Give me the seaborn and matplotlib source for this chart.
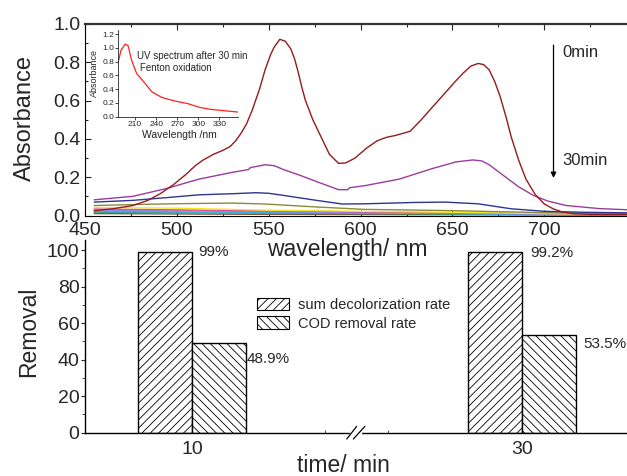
import matplotlib
matplotlib.use("Agg")
import numpy as np
import pandas as pd
import matplotlib.pyplot as plt
import seaborn as sns
from matplotlib.patches import Patch
from matplotlib.lines import Line2D
from matplotlib.ticker import MultipleLocator, FixedLocator
import matplotlib.transforms as mtransforms

# ---------------- data ----------------
# Visible spectra during Fenton oxidation (0 min ... 30 min)
wl_c0 = [455, 465, 476, 484, 491, 498, 505, 510, 514, 520, 525, 529, 532, 535, 538, 541, 545,
         548, 551, 553, 556, 559, 562, 564, 566, 568, 570, 574, 578, 583, 588, 592, 597, 603,
         609, 614, 619, 627, 633, 639, 646, 652, 656, 660, 664, 667, 670, 673, 676, 679, 682,
         686, 690, 695, 700, 705, 710, 716, 725, 735, 745]
abs_c0 = [0.025, 0.035, 0.052, 0.078, 0.114, 0.16, 0.215, 0.26, 0.288, 0.32, 0.34, 0.36, 0.39,
          0.43, 0.48, 0.55, 0.66, 0.76, 0.84, 0.88, 0.92, 0.91, 0.87, 0.82, 0.75, 0.67, 0.60,
          0.50, 0.42, 0.32, 0.272, 0.275, 0.30, 0.35, 0.39, 0.408, 0.418, 0.44, 0.50, 0.565,
          0.64, 0.705, 0.745, 0.78, 0.794, 0.788, 0.76, 0.70, 0.62, 0.52, 0.41, 0.29, 0.19,
          0.11, 0.06, 0.034, 0.018, 0.009, 0.006, 0.005, 0.005]

wl_c1 = [455, 476, 494, 512, 530, 539, 540, 548, 553, 558, 567, 578, 588, 593, 594, 603, 621,
         639, 652, 661, 666, 670, 679, 686, 694, 702, 712, 730, 745]
abs_c1 = [0.082, 0.10, 0.14, 0.19, 0.225, 0.24, 0.25, 0.265, 0.26, 0.24, 0.21, 0.17, 0.135,
          0.135, 0.145, 0.157, 0.19, 0.245, 0.28, 0.29, 0.285, 0.265, 0.20, 0.15, 0.105, 0.075,
          0.052, 0.036, 0.03]

wl_c2 = [455, 476, 494, 512, 531, 543, 550, 558, 576, 590, 602, 629, 646, 664, 682, 700, 720, 745]
abs_c2 = [0.07, 0.079, 0.093, 0.108, 0.114, 0.119, 0.116, 0.105, 0.079, 0.06, 0.061, 0.068,
          0.07, 0.061, 0.035, 0.022, 0.017, 0.014]

wl_c3 = [455, 480, 504, 530, 548, 575, 602, 646, 700, 745]
abs_c3 = [0.052, 0.058, 0.062, 0.065, 0.060, 0.045, 0.032, 0.026, 0.015, 0.009]

wl_c4 = [455, 500, 548, 600, 646, 700, 745]
abs_c4 = [0.042, 0.038, 0.028, 0.022, 0.017, 0.010, 0.005]

wl_c5 = [455, 550, 650, 745]
abs_c5 = [0.034, 0.024, 0.014, 0.006]

wl_c6 = [455, 550, 650, 745]
abs_c6 = [0.028, 0.020, 0.012, 0.004]

wl_c7 = [455, 550, 650, 745]
abs_c7 = [0.022, 0.016, 0.010, 0.004]

wl_c8 = [455, 550, 650, 745]
abs_c8 = [0.016, 0.012, 0.008, 0.003]

wl_c9 = [455, 550, 650, 745]
abs_c9 = [0.010, 0.006, 0.004, 0.002]

curve_names = ["c0", "c1", "c2", "c3", "c4", "c5", "c6", "c7", "c8", "c9"]
curve_wl = [wl_c0, wl_c1, wl_c2, wl_c3, wl_c4, wl_c5, wl_c6, wl_c7, wl_c8, wl_c9]
curve_abs = [abs_c0, abs_c1, abs_c2, abs_c3, abs_c4, abs_c5, abs_c6, abs_c7, abs_c8, abs_c9]
curve_colors = ["#951b1b", "#9b3b9e", "#2e3592", "#8a8a3a", "#f5e52a", "#e04aa0",
                "#8a8aff", "#30b4e0", "#40a080", "#7a5a40"]

# Inset UV spectrum after 30 min
inset_wl = [186, 190, 196, 200, 205, 212, 222, 234, 248, 267, 285, 302, 318, 337, 356]
inset_abs = [0.80, 0.97, 1.055, 1.03, 0.82, 0.63, 0.51, 0.36, 0.28, 0.227, 0.19, 0.135,
             0.106, 0.087, 0.068]

# Removal rates
times = ["10", "30"]
sum_rate = [99, 99.2]
cod_rate = [48.9, 53.5]
sum_name = "sum decolorization rate"
cod_name = "COD removal rate"

# ---------------- style ----------------
sns.set_style("ticks")
plt.rcParams["font.family"] = ["Liberation Sans", "DejaVu Sans"]
plt.rcParams["hatch.linewidth"] = 0.6
plt.rcParams["hatch.color"] = "black"

W, H = 627, 476
fig = plt.figure(figsize=(W / 100, H / 100), dpi=100)

def fa(x0, y_top, x1, y_bot):
    return [x0 / W, 1 - y_bot / H, (x1 - x0) / W, (y_bot - y_top) / H]

# ---------------- bottom panel first (so the top panel label sits above) ----------------
axb = fig.add_axes(fa(85, 240, 627, 432.7))
axb.patch.set_alpha(0)

# ---------------- top panel: spectra ----------------
ax = fig.add_axes(fa(85, 24, 627, 215.5))
rows = []
for name, wl, ab in zip(curve_names, curve_wl, curve_abs):
    for w_, a_ in zip(wl, ab):
        rows.append((name, w_, a_))
df_sp = pd.DataFrame(rows, columns=["curve", "wavelength", "absorbance"])
order_draw = curve_names[::-1]
sns.lineplot(data=df_sp, x="wavelength", y="absorbance", hue="curve",
             hue_order=order_draw,
             palette=dict(zip(curve_names, curve_colors)),
             estimator=None, sort=False, legend=False, linewidth=1.0, ax=ax)
ax.set_xlim(450, 745)
ax.set_ylim(0, 1.0)
ax.xaxis.set_major_locator(FixedLocator([450, 500, 550, 600, 650, 700]))
ax.xaxis.set_minor_locator(MultipleLocator(25))
ax.yaxis.set_major_locator(MultipleLocator(0.2))
ax.yaxis.set_minor_locator(MultipleLocator(0.1))
ax.yaxis.set_major_formatter(matplotlib.ticker.FormatStrFormatter("%.1f"))
ax.tick_params(axis="both", which="both", direction="in", top=True, right=False,
               labelsize=14, width=0.8)
ax.tick_params(axis="both", which="major", length=4)
ax.tick_params(axis="both", which="minor", length=2)
ax.tick_params(axis="x", pad=5)
ax.tick_params(axis="y", pad=3)
for s in ["left", "bottom"]:
    ax.spines[s].set_linewidth(0.8)
    ax.spines[s].set_color("black")
ax.spines["top"].set_linewidth(1.6)
ax.spines["top"].set_color("#333333")
ax.spines["right"].set_visible(False)
ax.set_xlabel("wavelength/ nm", fontsize=16.5)
ax.set_ylabel("Absorbance", fontsize=17)
ax.xaxis.set_label_coords(0.484, -0.117)
ax.yaxis.set_label_coords(-0.09, 0.508)

ax.annotate("", xy=(705, 0.196), xytext=(705, 0.89),
            arrowprops=dict(arrowstyle="-|>", lw=0.9, color="black", mutation_scale=8,
                            shrinkA=0, shrinkB=0))
ax.text(710, 0.849, "0min", fontsize=12, ha="left", va="center")
ax.text(710, 0.285, "30min", fontsize=12, ha="left", va="center")

# ---------------- inset ----------------
axi = fig.add_axes(fa(118.3, 30, 238.3, 116.7))
df_in = pd.DataFrame({"wavelength": inset_wl, "absorbance": inset_abs})
sns.lineplot(data=df_in, x="wavelength", y="absorbance", color="#ff2020", linewidth=0.9,
             estimator=None, sort=False, ax=axi)
axi.set_xlim(186, 357)
axi.set_ylim(0, 1.26)
axi.xaxis.set_major_locator(FixedLocator([210, 240, 270, 300, 330]))
axi.yaxis.set_major_locator(MultipleLocator(0.2))
axi.yaxis.set_major_formatter(matplotlib.ticker.FormatStrFormatter("%.1f"))
axi.tick_params(axis="both", which="major", direction="out", length=2, width=0.6,
                labelsize=6, pad=0.8)
axi.spines["top"].set_visible(False)
axi.spines["right"].set_visible(False)
for s in ["left", "bottom"]:
    axi.spines[s].set_linewidth(0.6)
axi.patch.set_alpha(0)
axi.set_xlabel("Wavelength /nm", fontsize=7.5)
axi.set_ylabel("Absorbance", fontsize=6.5)
axi.xaxis.set_label_coords(0.506, -0.15)
axi.yaxis.set_label_coords(-0.16, 0.5)
axi.text(0.155, 0.70, "UV spectrum after 30 min", transform=axi.transAxes,
         fontsize=7, ha="left", va="center")
axi.text(0.18, 0.56, "Fenton oxidation", transform=axi.transAxes,
         fontsize=7, ha="left", va="center")

# ---------------- bottom panel: removal bars ----------------
df_bar = pd.DataFrame({
    "time": times + times,
    "rate": sum_rate + cod_rate,
    "series": [sum_name] * len(times) + [cod_name] * len(times),
})
sns.barplot(data=df_bar, x="time", y="rate", hue="series", order=times,
            hue_order=[sum_name, cod_name],
            palette={sum_name: "white", cod_name: "white"}, saturation=1,
            width=0.327, gap=0, edgecolor="black", linewidth=1.0, errorbar=None,
            legend=False, ax=axb)
hatches = {sum_name: "////", cod_name: "\\\\\\\\"}
label_offsets_px = {(sum_name, "10"): (6, 0), (sum_name, "30"): (8, -1),
                    (cod_name, "10"): (1, -16), (cod_name, "30"): (7, -9)}
for series, cont in zip([sum_name, cod_name], axb.containers):
    for t, bar in zip(times, cont):
        bar.set_hatch(hatches[series])
        h = bar.get_height()
        dx, dy = label_offsets_px[(series, t)]
        axb.annotate(f"{h:g}%", xy=(bar.get_x() + bar.get_width(), h),
                     xytext=(dx * 0.72, dy * 0.72), textcoords="offset points",
                     ha="left", va="center", fontsize=11)

axb.set_xlim(-0.324, 1.318)
axb.set_ylim(0, 105.5)
axb.yaxis.set_major_locator(FixedLocator([0, 20, 40, 60, 80, 100]))
axb.yaxis.set_minor_locator(FixedLocator([10, 30, 50, 70, 90]))
axb.xaxis.set_minor_locator(FixedLocator([0.403, 0.594]))
axb.tick_params(axis="y", which="major", direction="out", length=3, width=0.8,
                labelsize=14, pad=1)
axb.tick_params(axis="y", which="minor", direction="out", length=2, width=0.6)
axb.tick_params(axis="x", which="major", direction="in", length=3, width=0.8,
                labelsize=14, pad=6)
axb.tick_params(axis="x", which="minor", direction="in", length=2, width=0.6)
axb.spines["top"].set_visible(False)
axb.spines["right"].set_visible(False)
for s in ["left", "bottom"]:
    axb.spines[s].set_linewidth(1.0)
    axb.spines[s].set_color("black")
axb.set_xlabel("time/ min", fontsize=16.5)
axb.set_ylabel("Removal", fontsize=16.5)
axb.xaxis.set_label_coords(0.477, -0.108)
axb.yaxis.set_label_coords(-0.082, 0.524)

legend_handles = [Patch(facecolor="white", edgecolor="black", hatch=hatches[sum_name], lw=0.8),
                  Patch(facecolor="white", edgecolor="black", hatch=hatches[cod_name], lw=0.8)]
fig.legend(legend_handles, [sum_name, cod_name], loc="upper left",
           bbox_to_anchor=(257 / W, 1 - 298 / H), frameon=False, fontsize=10.5,
           handlelength=2.2, handleheight=0.9, handletextpad=0.6, labelspacing=0.3,
           borderpad=0, borderaxespad=0)

# axis break marks
tr = mtransforms.blended_transform_factory(axb.transData, axb.transAxes)
axb.add_line(Line2D([0.482, 0.509], [0, 0], transform=tr, color="white", lw=2.5,
                    clip_on=False, zorder=5))
d = 6.3 / 192.7
for x0, x1 in [(0.469, 0.499), (0.489, 0.524)]:
    axb.add_line(Line2D([x0, x1], [-d, d], transform=tr, color="black", lw=0.9,
                        clip_on=False, zorder=6))

fig.savefig("out.png", dpi=100)
